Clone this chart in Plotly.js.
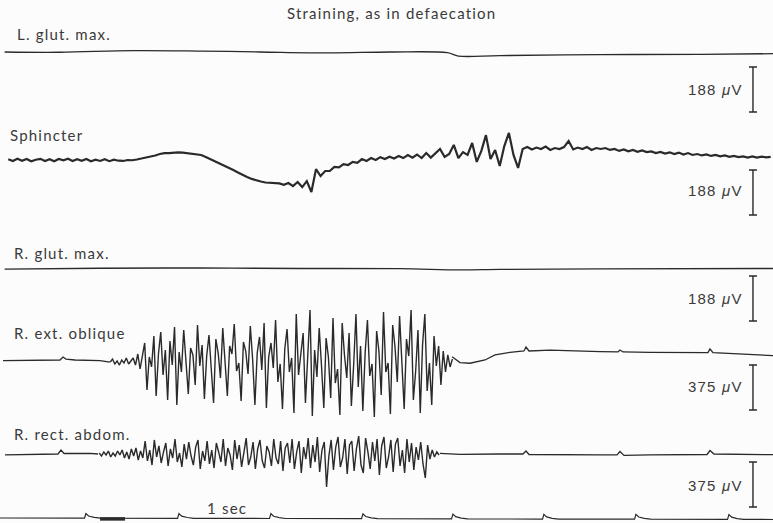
<!DOCTYPE html>
<html><head><meta charset="utf-8">
<script src="https://cdn.plot.ly/plotly-3.0.1.min.js"></script>
<style>
html,body{margin:0;padding:0;background:#fcfcfc;}
#chart{width:773px;height:523px;}
.annotation-text{letter-spacing:1.2px;}
</style></head><body><div id="chart"></div>
<script>
// ---------------- DATA (time in s, amplitude in microvolts) ----------------
const chartTitle = "Straining, as in defaecation";
const channelNames = ["L. glut. max.", "Sphincter", "R. glut. max.", "R. ext. oblique", "R. rect. abdom."];
const calibValues = [188, 188, 188, 375, 375];
const calibUnit = "μV";
const timeLabel = "1 sec";

// L. glut. max.
const lGlutT = [0.05, 0.65, 1.45, 2.18, 2.83, 3.59, 4.25, 4.87, 4.99, 5.44, 6.53, 7.62, 8.415];
const lGlutV = [0, -1, 6, 4, 0, -4, 0, -3, -17, -15, -11, -10, -7];

// Sphincter (uniformly sampled)
const sphT0 = 0.09, sphDt = 0.05;
const sphV = [3,-4,5,-3,4,-5,1,5,-4,3,
  -5,4,-1,5,-4,3,-3,4,-5,1,
  -4,3,-5,1,-3,-4,0,-1,
  2,6,10,13,19,25,29,29,31,32,31,29,
  27,25,21,13,4,-4,-13,-21,-31,-42,
  -52,-63,-71,-79,-86,-90,-94,-96,-96,-98,
  -104,-96,-109,-92,-113,-88,-134,-38,-67,-46,
  -46,-29,-31,-17,-21,-8,-12,4,-4,8,
  0,12,4,14,6,17,8,21,10,23,
  8,29,10,29,46,13,25,63,8,33,
  21,71,-8,38,104,4,42,-25,58,113,
  21,-33,46,54,44,52,46,56,42,50,
  46,54,79,44,52,46,54,42,50,46,
  50,42,46,38,44,36,42,34,40,33,
  36,29,34,27,32,25,31,23,29,21,
  25,19,23,17,21,15,19,13,17,12,
  15,10,15,10,14,11,13];

// R. glut. max.
const rGlutT = [0.05, 1.09, 2.18, 3.27, 4.35, 5.01, 5.44, 6.53, 8.415];
const rGlutV = [-5, -1, 0, -2, -3, -8, -6, -4, -2];

// R. ext. oblique
const extPreT = [0.033, 0.435, 0.653, 0.686, 0.718, 0.816, 1.089, 1.197];
const extPreV = [-6, 0, 0, 25, 8, 0, -6, -17];
const extBurstT0 = 1.2, extBurstDt = 0.025;
const extBurstV = [-17,8,-33,-8,-42,0,-25,17,-33,-8,
  17,-42,50,-75,33,142,-250,25,-58,200,
  -300,50,233,-125,83,-333,158,-42,275,-375,
  67,-100,250,-17,-283,100,42,-208,292,-50,
  125,-325,33,208,-67,-358,175,58,-150,267,
  -17,-300,117,50,300,-92,-25,-342,150,75,
  -117,283,8,-375,58,192,-83,308,-400,25,
  142,-67,333,-183,-33,-408,92,258,-100,17,
  -442,383,-125,50,225,-358,-17,417,-467,83,
  -142,267,-50,-400,183,25,-317,350,-192,-75,
  -458,308,42,-150,225,-383,-42,383,-225,117,
  -425,58,333,-133,-33,-475,242,75,-292,400,
  -100,-25,-450,292,108,-183,367,-50,-408,175,
  33,417,-333,-92,250,-442,125,383,-258,-25,
  -375,200,-50,117,-208,75,-100,42,-58,8];
const extPostT = [4.921, 5.008, 5.117, 5.280, 5.389, 5.552, 5.704, 5.726, 5.759, 5.987, 6.532, 6.728, 6.749, 6.782, 7.076, 7.620, 7.707, 7.729, 7.762, 8.415];
const extPostV = [27, -22, -27, 0, 42, 64, 75, 108, 75, 83, 69, 67, 83, 67, 64, 61, 61, 92, 62, 36];

// R. rect. abdom.
const rectPreT = [0.054, 0.435, 0.631, 0.664, 0.697, 0.980, 1.067];
const rectPreV = [-8, -6, 0, 33, 4, 6, 0];
const rectBurstT0 = 1.08, rectBurstDt = 0.025;
const rectBurstV = [8,-17,17,-8,25,-25,8,-17,25,-8,
  33,-33,17,-42,42,-17,50,-50,25,-33,
  108,-58,33,-92,117,-25,67,-75,17,92,
  -100,42,-33,125,-67,8,-108,83,-42,100,
  -17,-92,58,117,-125,25,-58,108,-83,33,
  -117,92,17,-67,125,-100,50,-8,-133,117,
  -42,75,-108,8,133,-92,-25,100,-125,42,
  117,-58,-117,67,17,-100,125,-33,-83,108,
  -142,50,92,-75,125,-125,17,108,-158,58,
  -42,133,-117,75,-67,142,-150,33,100,-275,
  -17,117,-133,58,142,-108,-33,125,-167,75,
  108,-142,42,150,-92,-158,133,17,-125,100,
  -58,125,-175,67,142,-117,-25,117,-150,83,
  133,-100,33,-158,125,-67,92,-133,58,-50,
  100,-83,-200,75,-42,33,-25,17,-8];
const rectPostT = [4.790, 5.008, 5.443, 5.693, 5.726, 5.759, 6.532, 6.717, 6.749, 6.793, 7.076, 7.620, 7.697, 7.729, 7.773, 8.415];
const rectPostV = [6, -3, 0, 0, 25, -4, -8, -8, 21, -12, -8, -6, -4, 29, 0, -6];

// Time marker (arbitrary units)
const markT = [0, 0.92, 0.935, 0.965, 1.025, 1.095, 1.933, 1.948, 1.978, 2.038, 2.108,
  2.934, 2.949, 2.979, 3.039, 3.109, 3.936, 3.951, 3.981, 4.041, 4.111,
  4.916, 4.931, 4.961, 5.021, 5.091, 5.906, 5.921, 5.951, 6.011, 6.081,
  6.908, 6.923, 6.953, 7.013, 7.083, 7.920, 7.935, 7.965, 8.025, 8.095, 8.415];
const markV = [0, -0.2, 4.5, 2, 0.6, -0.2, -0.3, 4.4, 1.9, 0.5, -0.3,
  -0.5, 4.3, 1.7, 0.3, -0.5, -0.7, 4.1, 1.5, 0.1, -0.7,
  -0.9, 3.9, 1.3, -0.1, -0.9, -1.1, 3.7, 1.1, -0.3, -1.1,
  -1.2, 3.6, 1, -0.4, -1.2, -1.4, 3.4, 0.8, -0.6, -1.4, -1.5];
const markBarT = [1.089, 1.361];
const markBarV = [-0.9, -0.9];

// ---------------- LAYOUT CONSTANTS ----------------
const W = 773, H = 523;
const tMax = 8.415;
const baseRows = [52, 160, 268, 360, 454, 518];           // channel zero rows (px)
const pxScale = [188/45, 188/45, 188/45, 375/45, 375/45, 1]; // units per px
const calibRows = [89.5, 192.5, 298.5, 387.5, 484.5];
const calibX = 8.197;
const ink = '#2a2a2a';

function ax(i){ return i === 0 ? 'y' : 'y' + (i + 1); }
function line(x, y, i, w, shape){
  return {type:'scatter', mode:'lines', x:x, y:y, yaxis:ax(i),
    line:{color:ink, width:w, shape:shape || 'linear'}, hoverinfo:'skip', showlegend:false};
}
function sampled(t0, dt, y, i, w){
  return {type:'scatter', mode:'lines', x0:t0, dx:dt, y:y, yaxis:ax(i),
    line:{color:ink, width:w}, hoverinfo:'skip', showlegend:false};
}

const traces = [
  line(lGlutT, lGlutV, 0, 1.3, 'spline'),
  sampled(sphT0, sphDt, sphV, 1, 2.2),
  line(rGlutT, rGlutV, 2, 1.3, 'spline'),
  line(extPreT, extPreV, 3, 1.3),
  sampled(extBurstT0, extBurstDt, extBurstV, 3, 1.4),
  line(extPostT, extPostV, 3, 1.3),
  line(rectPreT, rectPreV, 4, 1.3),
  sampled(rectBurstT0, rectBurstDt, rectBurstV, 4, 1.4),
  line(rectPostT, rectPostV, 4, 1.3),
  line(markT, markV, 5, 1.2),
  line(markBarT, markBarV, 5, 3.5)
];

// calibration bars drawn as error bars
calibValues.forEach((v, i) => {
  const center = (baseRows[i] - calibRows[i]) * pxScale[i];
  traces.push({type:'scatter', mode:'markers', x:[calibX], y:[center], yaxis:ax(i),
    marker:{size:1, color:'rgba(0,0,0,0)'}, hoverinfo:'skip', showlegend:false,
    error_y:{type:'data', array:[v/2], visible:true, color:ink, thickness:1.4, width:4}});
});

const layout = {
  width: W, height: H,
  margin:{l:0, r:0, t:0, b:0},
  paper_bgcolor:'#fcfcfc', plot_bgcolor:'#fcfcfc',
  showlegend:false,
  xaxis:{range:[0, tMax], visible:false, fixedrange:true},
  annotations:[]
};
baseRows.forEach((b, i) => {
  const key = i === 0 ? 'yaxis' : 'yaxis' + (i + 1);
  layout[key] = {range:[-(H - b) * pxScale[i], b * pxScale[i]], visible:false, fixedrange:true};
  if (i > 0) layout[key].overlaying = 'y';
});

const labFont = {family:'Lato, "Open Sans", sans-serif', size:15, color:'#3a3a3a'};
const numFont = {family:'"Liberation Sans", Arial, sans-serif', size:15, color:'#3a3a3a'};
function ann(text, xpx, ypx, xanchor, font){
  layout.annotations.push({text:text, xref:'paper', yref:'paper', x:xpx/W, y:1 - ypx/H,
    xanchor:xanchor, yanchor:'middle', showarrow:false, font:font});
}
ann(chartTitle, 391, 13, 'center', labFont);
const labelPos = [[15, 34], [8, 135], [12, 253], [12, 333], [12, 434]];
channelNames.forEach((n, i) => ann(n, labelPos[i][0], labelPos[i][1], 'left', labFont));
ann(timeLabel, 205, 508, 'left', labFont);
const calibTextRows = [89, 190, 298, 386, 485];
calibValues.forEach((v, i) => ann(v + ' <i>' + calibUnit.charAt(0) + '</i>' + calibUnit.slice(1), 745, calibTextRows[i], 'right', numFont));

Plotly.newPlot('chart', traces, layout, {staticPlot:true, displayModeBar:false});
</script></body></html>
